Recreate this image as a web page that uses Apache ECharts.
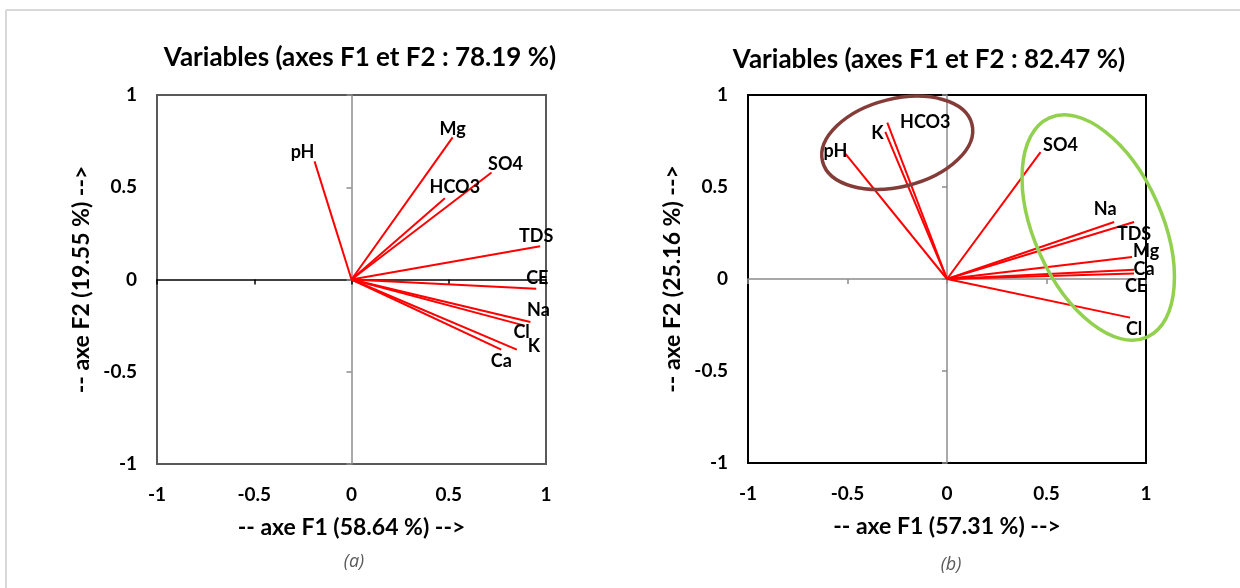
<!DOCTYPE html>
<html>
<head>
<meta charset="utf-8">
<script src="https://cdn.jsdelivr.net/npm/echarts@6/dist/echarts.min.js"></script>
<style>
  html, body { margin: 0; padding: 0; background: #fff; }
  #chart { width: 1240px; height: 588px; }
</style>
</head>
<body>
<div id="chart"></div>
<script>
// (a) circle of correlations, F1 x F2
var varsA = ['pH', 'Mg', 'SO4', 'HCO3', 'TDS', 'CE', 'Na', 'Cl', 'K', 'Ca']
var f1A = [-0.19, 0.52, 0.72, 0.48, 0.97, 0.95, 0.92, 0.89, 0.85, 0.77]
var f2A = [0.64, 0.77, 0.58, 0.44, 0.18, -0.05, -0.23, -0.25, -0.38, -0.38]

// (b)
var varsB = ['pH', 'K', 'HCO3', 'SO4', 'Na', 'TDS', 'Mg', 'Ca', 'CE', 'Cl']
var f1B = [-0.51, -0.31, -0.30, 0.47, 0.84, 0.94, 0.93, 0.94, 0.94, 0.92]
var f2B = [0.68, 0.80, 0.85, 0.69, 0.31, 0.31, 0.12, 0.05, 0.03, -0.21]

var ticks = ['-1', '-0.5', '0', '0.5', '1']
var titleA = 'Variables (axes F1 et F2 : 78.19 %)'
var titleB = 'Variables (axes F1 et F2 : 82.47 %)'
var xNameA = '-- axe F1 (58.64 %) -->'
var yNameA = '-- axe F2 (19.55 %) -->'
var xNameB = '-- axe F1 (57.31 %) -->'
var yNameB = '-- axe F2 (25.16 %) -->'

// group rings drawn on (b), centres in axis units
var ringCentres = [[-0.25, 0.74], [0.76, 0.28]]

// label nudges in px (style only)
var nudgeA = [[-12, -9], [0, -8], [14, -8], [10, -11], [-4, -10], [1, -11], [8, -12], [-3, 7], [17, -3], [0, 12]]
var nudgeB = [[-10, -3], [-8, 1], [38, 0], [20, -7], [-9, -13], [0, 12], [14, -6], [10, -1], [2, 13], [4, 12]]
var ringStyle = [
  { rx: 77, ry: 44, rot: 14, color: '#843c39' },
  { rx: 64, ry: 120, rot: 24, color: '#92d050' }
]

var FONT = 'Lato, "Open Sans", sans-serif'
var chart = echarts.init(document.getElementById('chart'))

function vectorSeries(idx, names, nudge) {
  return {
    type: 'custom',
    xAxisIndex: idx * 2,
    yAxisIndex: idx * 2,
    clip: false,
    z: 5,
    data: (idx === 0 ? f1A : f1B).map(function(v, i) {
      return [v, (idx === 0 ? f2A : f2B)[i], i]
    }),
    renderItem: function(params, api) {
      var o = api.coord([0, 0])
      var p = api.coord([api.value(0), api.value(1)])
      var n = nudge[params.dataIndex]
      return {
        type: 'group',
        children: [
          {
            type: 'line',
            shape: { x1: o[0], y1: o[1], x2: p[0], y2: p[1] },
            style: { stroke: '#ff0000', lineWidth: 2 }
          },
          {
            type: 'text',
            z2: 10,
            style: {
              text: names[params.dataIndex],
              x: p[0] + n[0],
              y: p[1] + n[1],
              align: 'center',
              verticalAlign: 'middle',
              fill: '#000',
              fontSize: 18,
              fontWeight: 'bold',
              fontFamily: FONT
            }
          }
        ]
      }
    }
  }
}

function xAxes(grid, name, lineColor) {
  return [
    {
      gridIndex: grid, type: 'value', min: -1, max: 1, interval: 0.5, position: 'bottom',
      axisLine: { show: false, onZero: false }, axisTick: { show: false }, splitLine: { show: false },
      axisLabel: {
        margin: 21, color: '#000', fontSize: 19, fontWeight: 'bold', fontFamily: FONT,
        formatter: function(v) { return ticks[Math.round((v + 1) * 2)] }
      },
      name: name, nameLocation: 'middle', nameGap: 52,
      nameTextStyle: { color: '#000', fontSize: 23, fontWeight: 'bold', fontFamily: FONT }
    },
    {
      gridIndex: grid, type: 'value', min: -1, max: 1, interval: 0.5, position: 'bottom',
      axisLine: { show: true, onZero: true, lineStyle: { color: lineColor, width: 1.5 } },
      axisTick: { show: true, length: 5, lineStyle: { color: lineColor, width: 1.5 } },
      axisLabel: { show: false }, splitLine: { show: false }
    }
  ]
}

function yAxes(grid, name, lineColor) {
  return [
    {
      gridIndex: grid, type: 'value', min: -1, max: 1, interval: 0.5, position: 'left',
      axisLine: { show: false, onZero: false }, axisTick: { show: false }, splitLine: { show: false },
      axisLabel: {
        margin: 20, color: '#000', fontSize: 19, fontWeight: 'bold', fontFamily: FONT,
        formatter: function(v) { return ticks[Math.round((v + 1) * 2)] }
      },
      name: name, nameLocation: 'middle', nameGap: 64,
      nameTextStyle: { color: '#000', fontSize: 23, fontWeight: 'bold', fontFamily: FONT }
    },
    {
      gridIndex: grid, type: 'value', min: -1, max: 1, interval: 0.5, position: 'left',
      axisLine: { show: true, onZero: true, lineStyle: { color: lineColor, width: 1.5 } },
      axisTick: { show: true, length: 5, lineStyle: { color: lineColor, width: 1.5 } },
      axisLabel: { show: false }, splitLine: { show: false }
    }
  ]
}

var ringSeries = {
  type: 'custom',
  xAxisIndex: 2,
  yAxisIndex: 2,
  clip: false,
  z: 6,
  data: ringCentres,
  renderItem: function(params, api) {
    var c = api.coord([api.value(0), api.value(1)])
    var s = ringStyle[params.dataIndex]
    return {
      type: 'ellipse',
      x: c[0],
      y: c[1],
      rotation: s.rot * Math.PI / 180,
      shape: { cx: 0, cy: 0, rx: s.rx, ry: s.ry },
      style: { fill: 'none', stroke: s.color, lineWidth: 3.5 }
    }
  }
}

var option = {
  backgroundColor: '#fff',
  animation: false,
  title: [
    { text: titleA, left: 355, top: 40, textAlign: 'center',
      textStyle: { fontSize: 26, fontWeight: 'bold', color: '#000', fontFamily: FONT } },
    { text: titleB, left: 924, top: 42, textAlign: 'center',
      textStyle: { fontSize: 26, fontWeight: 'bold', color: '#000', fontFamily: FONT } },
    { text: '(a)', left: 349, top: 548, textAlign: 'center',
      textStyle: { fontSize: 18, fontWeight: 'normal', fontStyle: 'italic', color: '#595959', fontFamily: '"Open Sans", sans-serif' } },
    { text: '(b)', left: 946, top: 551, textAlign: 'center',
      textStyle: { fontSize: 18, fontWeight: 'normal', fontStyle: 'italic', color: '#595959', fontFamily: '"Open Sans", sans-serif' } }
  ],
  grid: [
    { left: 157, top: 95, width: 389, height: 369, show: true, borderColor: '#595959', borderWidth: 2, backgroundColor: 'transparent' },
    { left: 748, top: 95, width: 398, height: 368, show: true, borderColor: '#000', borderWidth: 2, backgroundColor: 'transparent' }
  ],
  xAxis: xAxes(0, xNameA, '#000').concat(xAxes(1, xNameB, '#8c8c8c')),
  yAxis: yAxes(0, yNameA, '#8c8c8c').concat(yAxes(1, yNameB, '#8c8c8c')),
  graphic: [
    { type: 'line', shape: { x1: 6, y1: 10, x2: 1240, y2: 10 }, style: { stroke: '#d9d9d9', lineWidth: 2 } },
    { type: 'line', shape: { x1: 6, y1: 10, x2: 6, y2: 588 }, style: { stroke: '#d9d9d9', lineWidth: 2 } }
  ],
  series: [
    vectorSeries(0, varsA, nudgeA),
    vectorSeries(1, varsB, nudgeB),
    ringSeries
  ]
}

chart.setOption(option)
</script>
</body>
</html>
